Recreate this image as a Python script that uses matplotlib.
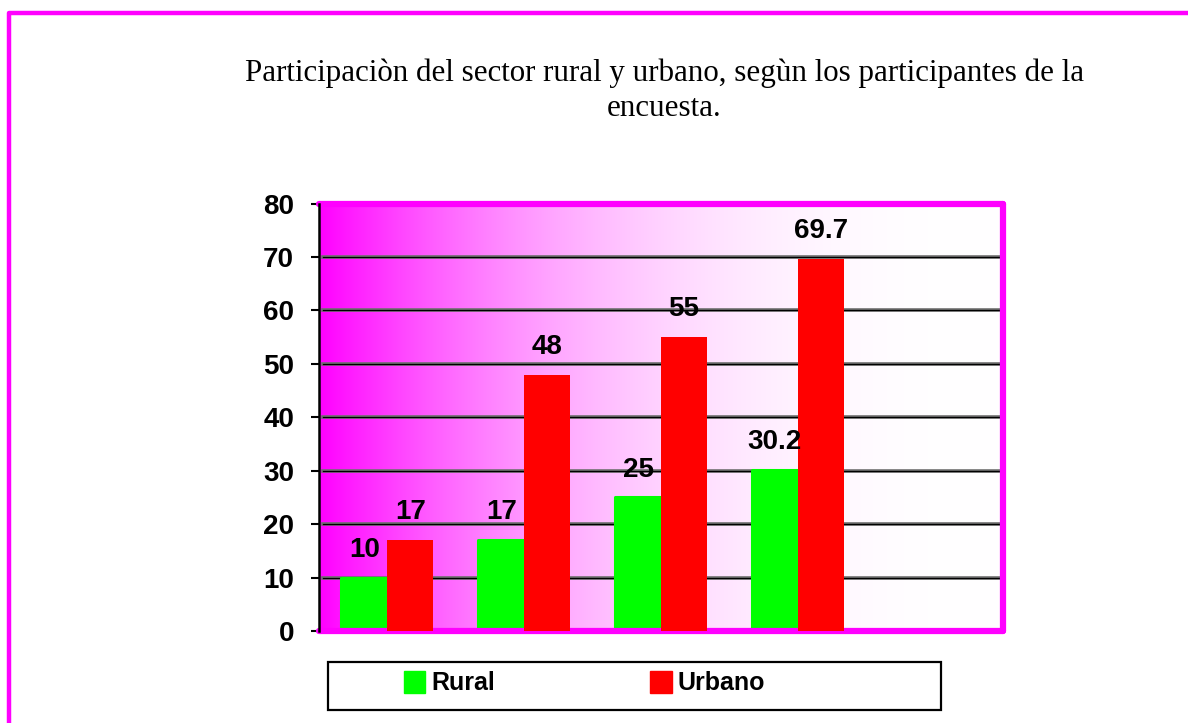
import matplotlib
matplotlib.use("Agg")
import matplotlib.pyplot as plt
from matplotlib.lines import Line2D
from matplotlib.patches import Rectangle, Patch
import numpy as np

# ── Data ────────────────────────────────────────────────────
grupos = ["1", "2", "3", "4"]
rural = [10, 17, 25, 30.2]
urbano = [17, 48, 55, 69.7]
n_slots = 5            # the chart leaves an empty 5th slot on the right
y_ticks = [0, 10, 20, 30, 40, 50, 60, 70, 80]

titulo = ("Participaciòn del sector rural y urbano, segùn los participantes de la\n"
          "encuesta.")

# ── Colours ─────────────────────────────────────────────────
MAGENTA = "#FF00FF"
GREEN = "#00FF00"
RED = "#FF0000"
BLACK = "#000000"

W, H = 1188, 723
plt.rcParams["font.family"] = ["Liberation Sans", "DejaVu Sans"]

fig = plt.figure(figsize=(W / 100, H / 100), dpi=100)
fig.patch.set_facecolor("white")

def fx(px):
    return px / W

def fy(py):
    return 1 - py / H

# outer magenta frame (cropped at right and bottom)
fig.add_artist(Line2D([fx(8.8), fx(8.8), 1.02], [-0.02, fy(12.8), fy(12.8)],
                      transform=fig.transFigure, color=MAGENTA, lw=3.2,
                      solid_joinstyle="round"))

fig.text(fx(664.5), fy(58), titulo, ha="center", va="top",
         fontsize=22.3, family=["Liberation Serif", "DejaVu Serif"],
         linespacing=1.3)

ax = fig.add_axes([fx(319), fy(631), fx(1003) - fx(319), fy(203.5) - fy(631)])

# horizontal magenta -> white background
t = np.linspace(0, 1, 400)
g = 1 - (1 - t) ** 2.5
grad = np.dstack([np.ones_like(g), g, np.ones_like(g)])
ax.imshow(grad, extent=[0, 1, 0, 1], transform=ax.transAxes,
          aspect="auto", zorder=0, interpolation="bilinear")

# gridlines: black with grey shadow
for y in y_ticks[1:-1]:
    ax.axhline(y, xmin=0.006, xmax=0.996, color="#6e6e6e", lw=2.6, zorder=1)
    ax.axhline(y, xmin=0.006, xmax=0.996, color=BLACK, lw=0.9, zorder=1.1)

x = np.arange(len(grupos))
w = 46 / 137
b1 = ax.bar(x - w / 2, rural, w, color=GREEN, edgecolor=GREEN, lw=2.2,
            zorder=2, label="Rural")
for p in b1:
    p.set_joinstyle("round")
b2 = ax.bar(x + w / 2, urbano, w, color=RED, lw=0, zorder=3, label="Urbano")

for bars, vals in ((b1, rural), (b2, urbano)):
    for p, v in zip(bars, vals):
        ax.annotate(f"{v:g}", xy=(p.get_x() + p.get_width() / 2, v),
                    xytext=(0, 15), textcoords="offset points",
                    ha="center", va="baseline", fontsize=20,
                    fontweight="bold", zorder=5)

ax.set_xlim(-0.5, n_slots - 0.5)
ax.set_ylim(0, 80)
ax.set_xticks([])
ax.set_yticks(y_ticks)
ax.tick_params(axis="y", length=6, width=1.5, pad=12, labelsize=20,
               colors=BLACK)
for lbl in ax.get_yticklabels():
    lbl.set_fontweight("bold")

for side in ("top", "right", "bottom"):
    ax.spines[side].set_color(MAGENTA)
    ax.spines[side].set_linewidth(4.5)
    ax.spines[side].set_capstyle("round")
ax.spines["left"].set_color(BLACK)
ax.spines["left"].set_linewidth(1.8)
ax.spines["left"].set_zorder(4)

# legend box
fig.add_artist(Rectangle((fx(328), fy(710)), fx(941) - fx(328), fy(662) - fy(710),
                         transform=fig.transFigure, facecolor="white",
                         edgecolor=BLACK, lw=1.6))
handles = [Patch(facecolor=GREEN, edgecolor=GREEN, label="Rural"),
           Patch(facecolor=RED, edgecolor=RED, label="Urbano")]
fig.legend(handles=handles, loc="center left",
           bbox_to_anchor=(fx(404), fy(683)), ncol=2, frameon=False,
           borderpad=0, borderaxespad=0, handlelength=0.85, handleheight=1.0,
           handletextpad=0.25, columnspacing=6.2,
           prop={"size": 18, "weight": "bold"})

fig.savefig("out.png", dpi=100, facecolor="white")
